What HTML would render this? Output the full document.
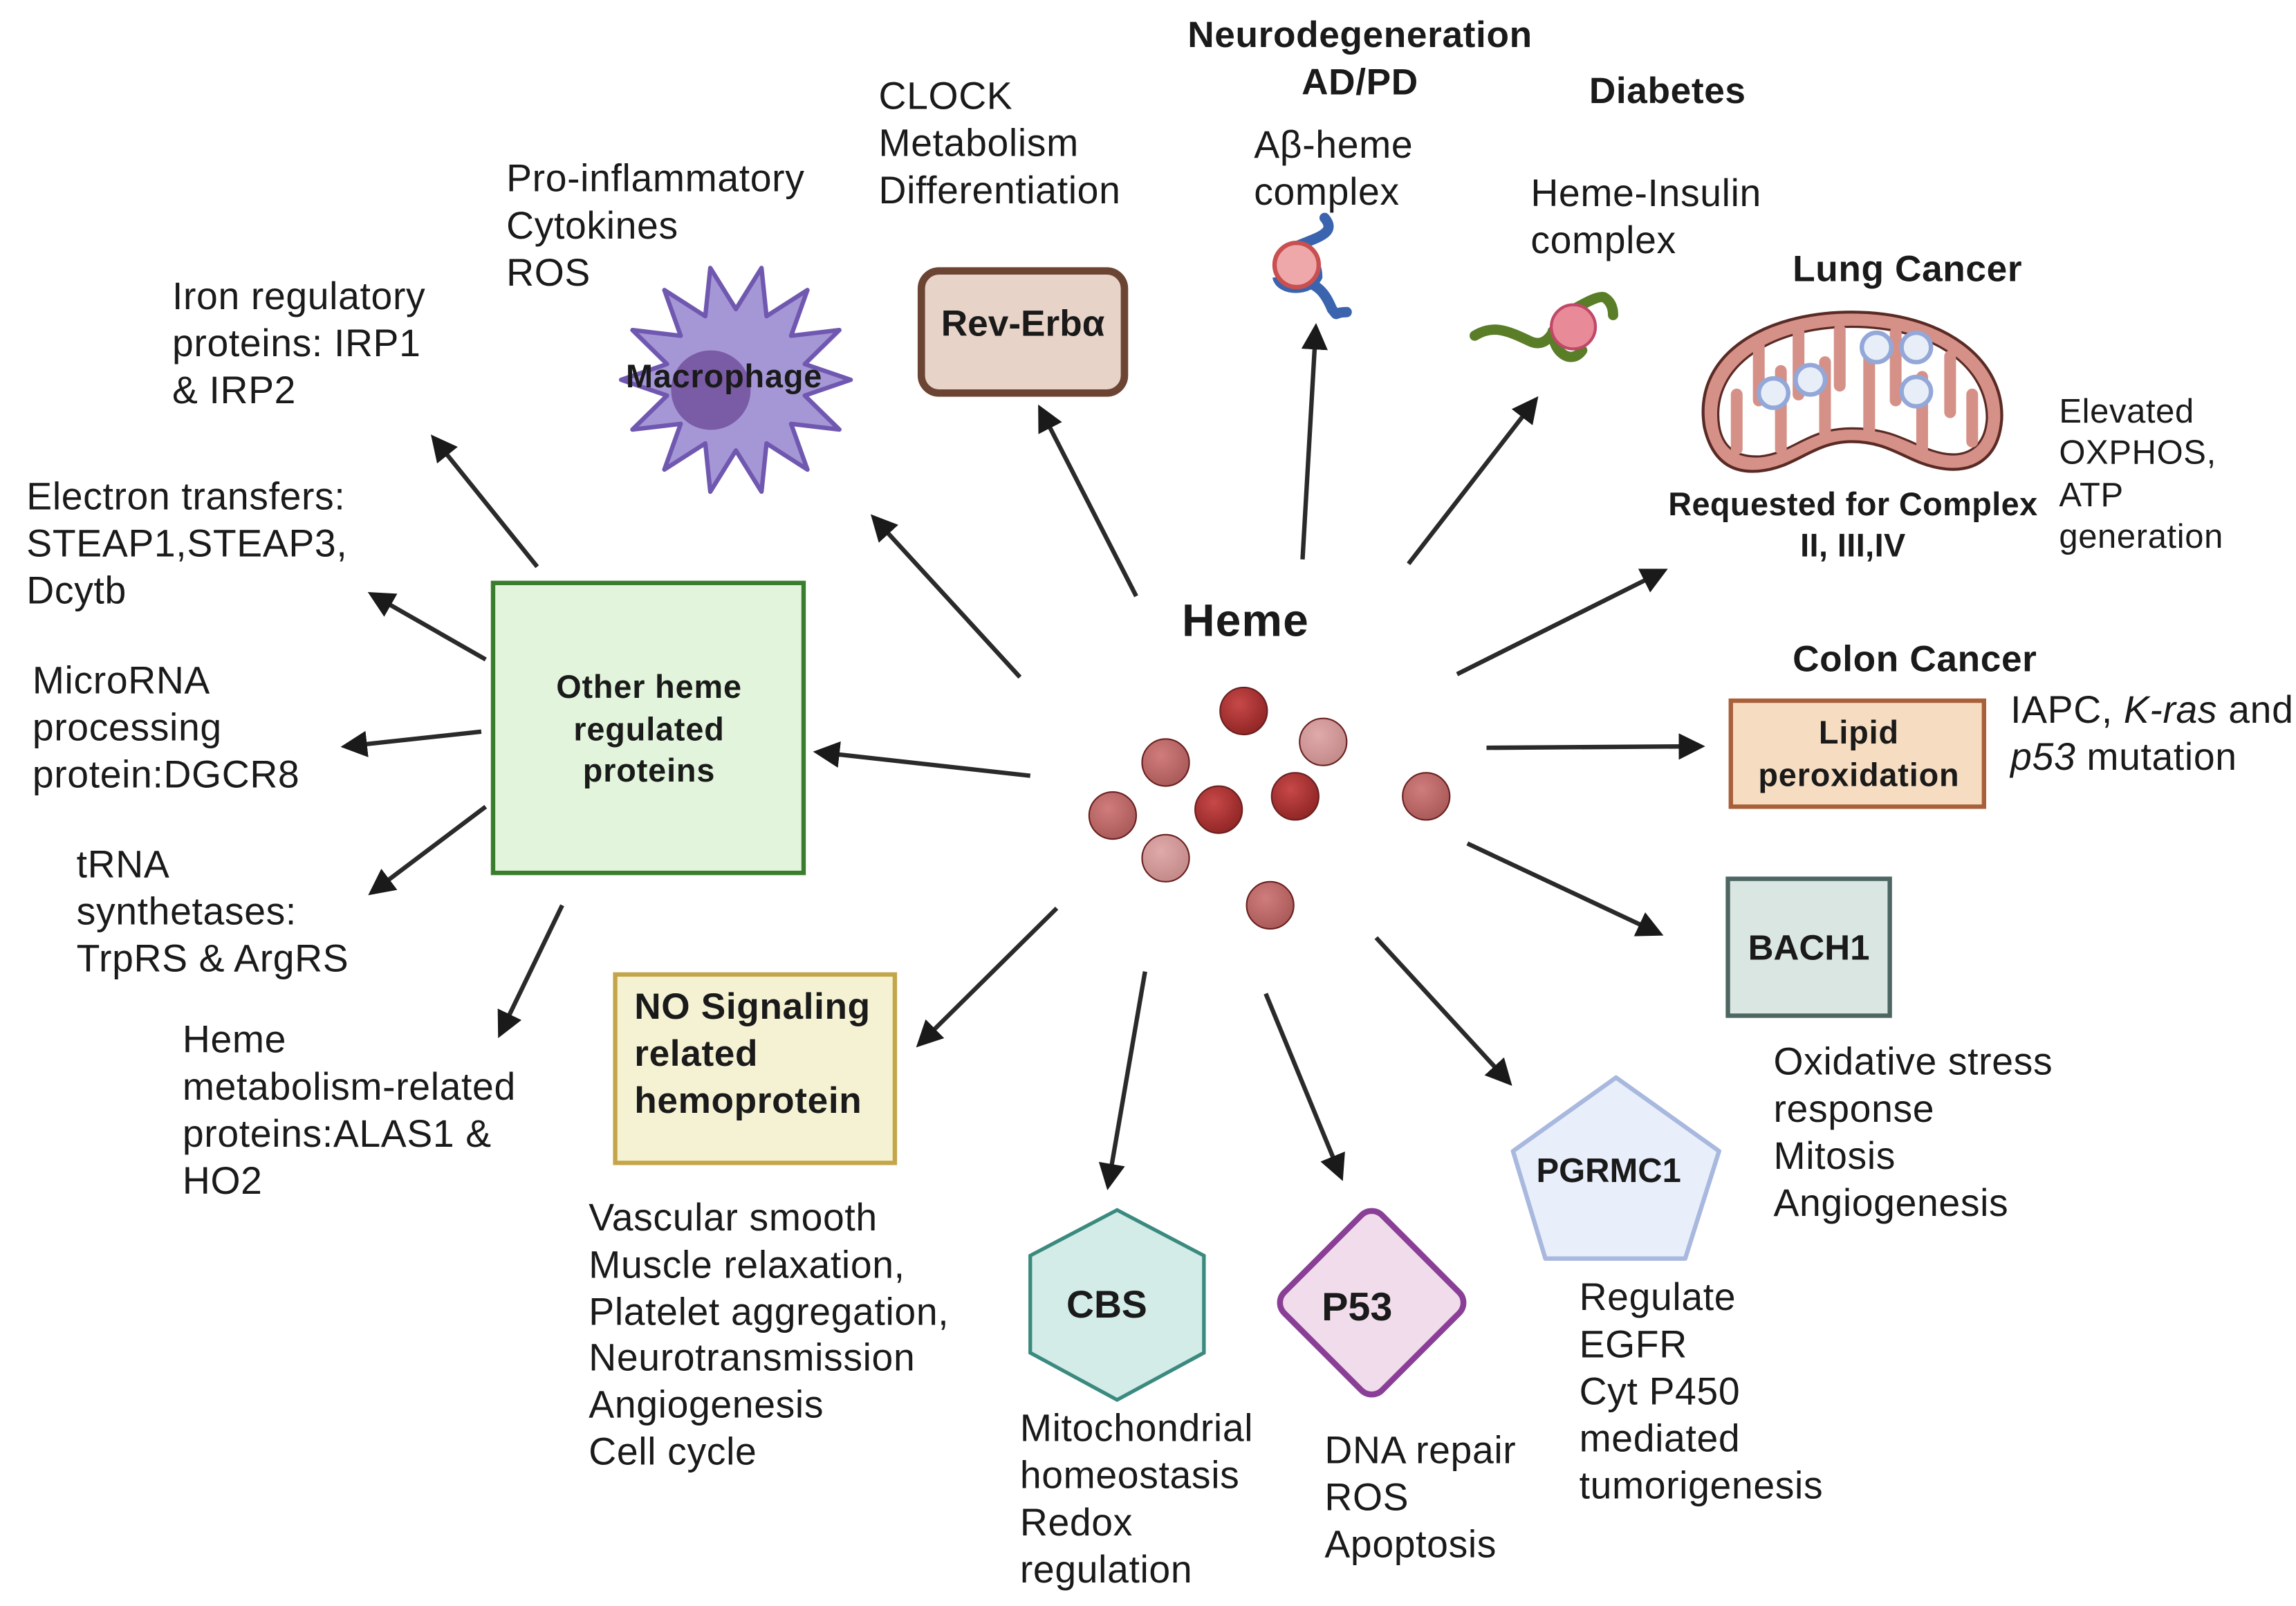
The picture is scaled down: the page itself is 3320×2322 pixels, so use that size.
<!DOCTYPE html>
<html><head><meta charset="utf-8"><style>
html,body{margin:0;padding:0;background:#fff}
svg{display:block}
text{font-family:"Liberation Sans",sans-serif;fill:#1a1a1a}
.t{font-size:26px;letter-spacing:0.3px}
.b{font-weight:bold}
</style></head><body>
<svg width="3320" height="2322" viewBox="0 0 1560 1091" xmlns="http://www.w3.org/2000/svg">
<defs>
<marker id="ah" viewBox="0 0 10 10" refX="8" refY="5" markerWidth="6" markerHeight="6" orient="auto" markerUnits="strokeWidth">
<path d="M0,0 L10,5 L0,10 z" fill="#1a1a1a"/></marker>
<radialGradient id="gd" cx="0.4" cy="0.35" r="0.7"><stop offset="0" stop-color="#c84848"/><stop offset="1" stop-color="#8e2424"/></radialGradient>
<radialGradient id="gm" cx="0.4" cy="0.35" r="0.7"><stop offset="0" stop-color="#d07c7c"/><stop offset="1" stop-color="#a85858"/></radialGradient>
<radialGradient id="gl" cx="0.4" cy="0.35" r="0.7"><stop offset="0" stop-color="#e0aaaa"/><stop offset="1" stop-color="#c28888"/></radialGradient>
</defs>
<rect width="1560" height="1091" fill="#fff"/>

<g stroke="#2a2a2a" stroke-width="3" fill="none" marker-end="url(#ah)">
<line x1="700" y1="527" x2="556" y2="511"/>
<line x1="693" y1="460" x2="594" y2="352"/>
<line x1="772" y1="405" x2="707" y2="278"/>
<line x1="885" y1="380" x2="894" y2="223"/>
<line x1="957" y1="383" x2="1043" y2="272"/>
<line x1="990" y1="458" x2="1130" y2="388"/>
<line x1="1010" y1="508" x2="1155" y2="507"/>
<line x1="997" y1="573" x2="1127" y2="634"/>
<line x1="935" y1="637" x2="1025" y2="735"/>
<line x1="860" y1="675" x2="911" y2="799"/>
<line x1="778" y1="660" x2="753" y2="805"/>
<line x1="718" y1="617" x2="625" y2="709"/>
<line x1="365" y1="385" x2="295" y2="298"/>
<line x1="330" y1="448" x2="253" y2="404"/>
<line x1="327" y1="497" x2="235" y2="507"/>
<line x1="330" y1="548" x2="253" y2="606"/>
<line x1="382" y1="615" x2="340" y2="702"/>
</g>

<text x="803" y="432" class="b" font-size="31" letter-spacing="0.5">Heme</text>
<g stroke="#6a2020" stroke-width="1">
<circle cx="845" cy="483" r="16" fill="url(#gd)"/>
<circle cx="899" cy="504" r="16" fill="url(#gl)"/>
<circle cx="792" cy="518" r="16" fill="url(#gm)"/>
<circle cx="756" cy="554" r="16" fill="url(#gm)"/>
<circle cx="828" cy="550" r="16" fill="url(#gd)"/>
<circle cx="880" cy="541" r="16" fill="url(#gd)"/>
<circle cx="792" cy="583" r="16" fill="url(#gl)"/>
<circle cx="969" cy="541" r="16" fill="url(#gm)"/>
<circle cx="863" cy="615" r="16" fill="url(#gm)"/>
</g>

<rect x="335" y="396" width="211" height="197" fill="#e2f5dc" stroke="#3a7d2e" stroke-width="3"/>
<g class="b" font-size="22" text-anchor="middle" letter-spacing="0.4">
<text x="441" y="474">Other heme</text><text x="441" y="503">regulated</text><text x="441" y="531">proteins</text>
</g>

<rect x="626" y="184" width="138" height="83" rx="12" fill="#e8d3c8" stroke="#6b4433" stroke-width="5"/>
<text x="695" y="228" class="b" font-size="25" text-anchor="middle">Rev-Erbα</text>

<polygon points="578,258 546.8,268.7 570.3,291.8 537.5,287.9 548.6,319 520.8,301.2 517.4,334 500,306 482.6,334 479.2,301.2 451.4,319 462.5,287.9 429.7,291.8 453.2,268.7 422,258 453.2,247.3 429.7,224.2 462.5,228.1 451.4,197 479.2,214.8 482.6,182 500,210 517.4,182 520.8,214.8 548.6,197 537.5,228.1 570.3,224.2 546.8,247.3" fill="#a597d6" stroke="#7058b0" stroke-width="3" stroke-linejoin="round"/>
<circle cx="500" cy="258" r="46" fill="#a597d6"/>
<circle cx="483" cy="265" r="27" fill="#7a5ba6"/>
<text x="492" y="263" class="b" font-size="22" text-anchor="middle" letter-spacing="0.4">Macrophage</text>

<path d="M900,148 C910,160 890,162 875,170 M880,190 C895,192 900,198 905,210 C910,216 905,212 915,212" stroke="#3a64ae" stroke-width="7" fill="none" stroke-linecap="round"/>
<path d="M868,188 C870,198 890,198 895,188 C895,180 892,178 888,175" stroke="#3a64ae" stroke-width="7" fill="none"/>
<circle cx="881" cy="180" r="15" fill="#eea8aa" stroke="#c85050" stroke-width="3"/>

<path d="M1002,228 C1015,220 1025,225 1040,232 C1050,236 1055,228 1060,215 C1070,210 1085,200 1090,202 C1095,205 1096,210 1096,214 M1055,225 C1055,240 1068,248 1075,238" stroke="#5a7d28" stroke-width="7" fill="none" stroke-linecap="round"/>
<circle cx="1069" cy="222" r="15" fill="#e88a98" stroke="#c04868" stroke-width="2"/>

<path d="M1158,290 C1150,240 1200,212 1258,212 C1322,212 1362,245 1360,285 C1358,312 1340,322 1318,318 C1295,314 1285,300 1258,300 C1232,300 1220,318 1195,320 C1172,322 1162,308 1158,290Z" fill="#d59188" stroke="#5a2a25" stroke-width="2"/>
<path d="M1168,289 C1162,248 1205,222 1258,222 C1315,222 1350,250 1350,284 C1349,304 1336,311 1320,308 C1300,304 1290,291 1258,291 C1228,291 1218,308 1196,310 C1178,311 1170,302 1168,289Z" fill="#fff" stroke="#5a2a25" stroke-width="1.5"/>
<g stroke="#d59188" stroke-width="8" stroke-linecap="round">
<line x1="1195" y1="235" x2="1195" y2="272"/><line x1="1222" y1="226" x2="1222" y2="268"/><line x1="1250" y1="224" x2="1250" y2="262"/><line x1="1288" y1="226" x2="1288" y2="272"/><line x1="1325" y1="242" x2="1325" y2="280"/>
<line x1="1180" y1="305" x2="1180" y2="268"/><line x1="1210" y1="305" x2="1210" y2="252"/><line x1="1240" y1="294" x2="1240" y2="246"/><line x1="1270" y1="294" x2="1270" y2="242"/><line x1="1306" y1="305" x2="1306" y2="256"/><line x1="1340" y1="300" x2="1340" y2="268"/>
</g>
<g fill="#e8eef8" stroke="#93a8d8" stroke-width="3">
<circle cx="1205" cy="267" r="10"/><circle cx="1230" cy="258" r="10"/><circle cx="1275" cy="236" r="10"/><circle cx="1302" cy="236" r="10"/><circle cx="1302" cy="266" r="10"/>
</g>

<rect x="1176" y="476" width="172" height="72" fill="#f6dcc0" stroke="#a9603a" stroke-width="3"/>
<g class="b" font-size="22" text-anchor="middle" letter-spacing="0.4"><text x="1263" y="505">Lipid</text><text x="1263" y="534">peroxidation</text></g>

<rect x="1174" y="597" width="110" height="93" fill="#d9e6e2" stroke="#4d6662" stroke-width="3"/>
<text x="1229" y="652" class="b" font-size="24" text-anchor="middle">BACH1</text>

<rect x="418" y="662" width="190" height="128" fill="#f5f2d4" stroke="#c4a64a" stroke-width="3"/>
<g class="b" font-size="25" letter-spacing="0.3"><text x="431" y="692">NO Signaling</text><text x="431" y="724">related</text><text x="431" y="756">hemoprotein</text></g>

<polygon points="759,822 818,853 818,919 759,951 700,919 700,853" fill="#d3ece7" stroke="#3b8a7f" stroke-width="2.5"/>
<text x="752" y="895" class="b" font-size="26" text-anchor="middle">CBS</text>

<rect x="885" y="838" width="94" height="94" rx="10" transform="rotate(45 932 885)" fill="#f1dcec" stroke="#8a3f96" stroke-width="4"/>
<text x="922" y="897" class="b" font-size="27" text-anchor="middle">P53</text>

<polygon points="1098,732 1168,782 1145,855 1050,855 1028,782" fill="#e9effa" stroke="#a8b8de" stroke-width="3" stroke-linejoin="round"/>
<text x="1093" y="803" class="b" font-size="23" text-anchor="middle">PGRMC1</text>

<g class="b" font-size="25" text-anchor="middle" letter-spacing="0.3">
<text x="924" y="32">Neurodegeneration</text><text x="924" y="64">AD/PD</text>
<text x="1133" y="70">Diabetes</text>
<text x="1296" y="191">Lung Cancer</text>
<text x="1301" y="456">Colon Cancer</text>
</g>
<g class="b" font-size="22" text-anchor="middle" letter-spacing="0.2"><text x="1259" y="350">Requested for Complex</text><text x="1259" y="378">II, III,IV</text></g>

<g class="t">
<text x="344" y="130">Pro-inflammatory</text><text x="344" y="162">Cytokines</text><text x="344" y="194">ROS</text>
<text x="597" y="74">CLOCK</text><text x="597" y="106">Metabolism</text><text x="597" y="138">Differentiation</text>
<text x="852" y="107">Aβ-heme</text><text x="852" y="139">complex</text>
<text x="1040" y="140">Heme-Insulin</text><text x="1040" y="172">complex</text>
<text x="1366" y="491">IAPC, <tspan font-style="italic">K-ras</tspan> and</text><text x="1366" y="523"><tspan font-style="italic">p53</tspan> mutation</text>
<text x="1205" y="730">Oxidative stress</text><text x="1205" y="762">response</text><text x="1205" y="794">Mitosis</text><text x="1205" y="826">Angiogenesis</text>
<text x="1073" y="890">Regulate</text><text x="1073" y="922">EGFR</text><text x="1073" y="954">Cyt P450</text><text x="1073" y="986">mediated</text><text x="1073" y="1018">tumorigenesis</text>
<text x="900" y="994">DNA repair</text><text x="900" y="1026">ROS</text><text x="900" y="1058">Apoptosis</text>
<text x="693" y="979">Mitochondrial</text><text x="693" y="1011">homeostasis</text><text x="693" y="1043">Redox</text><text x="693" y="1075">regulation</text>
<text x="400" y="836">Vascular smooth</text><text x="400" y="868">Muscle relaxation,</text><text x="400" y="900">Platelet aggregation,</text><text x="400" y="931">Neurotransmission</text><text x="400" y="963">Angiogenesis</text><text x="400" y="995">Cell cycle</text>
<text x="124" y="715">Heme</text><text x="124" y="747">metabolism-related</text><text x="124" y="779">proteins:ALAS1 &amp;</text><text x="124" y="811">HO2</text>
<text x="52" y="596">tRNA</text><text x="52" y="628">synthetases:</text><text x="52" y="660">TrpRS &amp; ArgRS</text>
<text x="22" y="471">MicroRNA</text><text x="22" y="503">processing</text><text x="22" y="535">protein:DGCR8</text>
<text x="18" y="346">Electron transfers:</text><text x="18" y="378">STEAP1,STEAP3,</text><text x="18" y="410">Dcytb</text>
<text x="117" y="210">Iron regulatory</text><text x="117" y="242">proteins: IRP1</text><text x="117" y="274">&amp; IRP2</text>
</g>
<g font-size="23" letter-spacing="0.3"><text x="1399" y="287">Elevated</text><text x="1399" y="315">OXPHOS,</text><text x="1399" y="344">ATP</text><text x="1399" y="372">generation</text></g>
</svg>
</body></html>
